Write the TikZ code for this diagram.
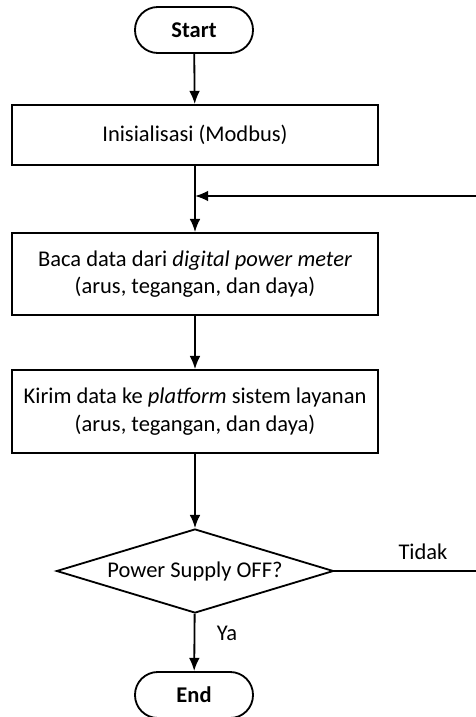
\documentclass[tikz,border=0pt]{standalone}
\usepackage{fontspec}
\setmainfont{Carlito}
\usetikzlibrary{arrows,arrows.meta,shapes,positioning,calc}

\begin{document}
\begin{tikzpicture}[>={Latex[length=3.3mm,width=2.7mm]}, line width=1.3pt, font=\fontsize{16}{19.5}\selectfont,
  terminal/.style={draw, rounded corners=0.57cm, minimum width=2.95cm, minimum height=1.15cm, font=\fontsize{16}{19.5}\selectfont\bfseries},
  procbox/.style={draw, minimum width=9.15cm, align=center},
  decision/.style={draw, diamond, aspect=3.3, inner sep=0pt, minimum width=6.925cm, minimum height=2.1cm}]
\useasboundingbox (0,0) rectangle (11.9,-17.925);
\node[terminal] (start) at (4.85,-0.75) {Start};
\node[procbox, minimum height=1.5cm] (init) at (4.875,-3.375) {Inisialisasi (Modbus)};
\node[procbox, minimum height=2.05cm] (baca) at (4.875,-6.85) {Baca data dari \textit{digital power meter}\\(arus, tegangan, dan daya)};
\node[procbox, minimum height=2.075cm] (kirim) at (4.875,-10.29) {Kirim data ke \textit{platform} sistem layanan\\(arus, tegangan, dan daya)};
\node[decision] (cek) at (4.875,-14.275) {Power Supply OFF?};
\node[terminal] (end) at (4.85,-17.375) {End};
\coordinate (join) at (4.875,-4.9);
\coordinate (kanan) at (12.0,-14.275);
\coordinate (atas) at (12.0,-4.9);
\draw[->] (start) -- (init);
\draw[->] (init) -- (baca);
\draw[->] (baca) -- (kirim);
\draw[->] (kirim) -- (cek);
\draw[->] (cek) -- (end);
\draw[->] (cek.east) -- (kanan) -- (atas) -- (join);
\node (ya) at (5.675,-15.825) {Ya};
\node (tidak) at (10.575,-13.8) {Tidak};
\end{tikzpicture}
\end{document}
